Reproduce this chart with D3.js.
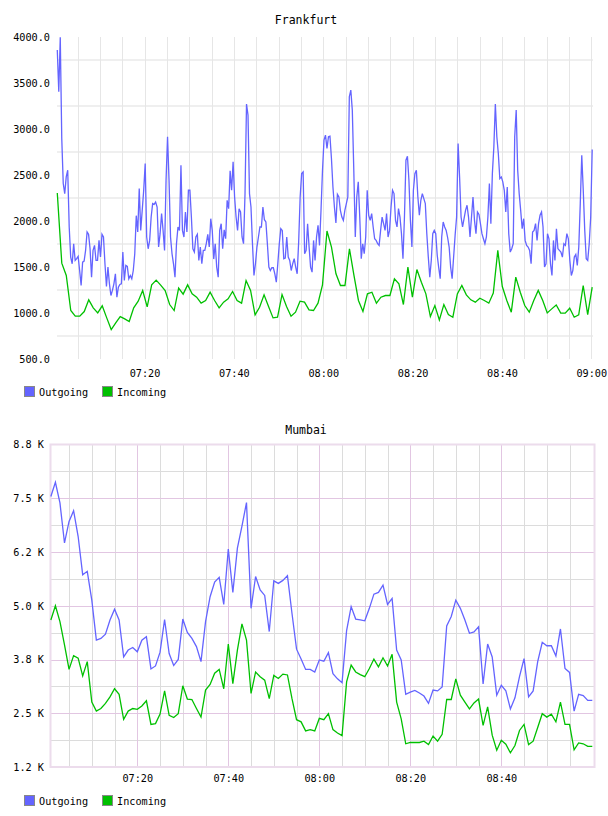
<!DOCTYPE html>
<html><head><meta charset="utf-8">
<script src="https://cdn.jsdelivr.net/npm/d3@7"></script>
<style>
html,body{margin:0;padding:0;background:#fff;}
svg text{font-family:"DejaVu Sans Mono",monospace;fill:#000;}
</style></head>
<body>
<svg id="c" width="608" height="816"></svg>
<script>
// ---------------- DATA ----------------
const seriesNames = ["Outgoing", "Incoming"];

// Frankfurt: outgoing sampled every ~20 s, incoming every ~1 min, 07:00:28 .. 09:00:12
const frankfurtSampleStart = "07:00:28";
const frankfurtSampleEnd = "09:00:12";
const frankfurtOutgoing = [
3859,3405,3997,2900,2407,2298,2479,2552,1935,1608,1535,1753,1571,1590,1615,1462,1299,1553,1564,1680,
1880,1855,1698,1390,1680,1735,1571,1571,1789,1608,1855,1826,1535,1288,1499,1317,1190,1245,1317,1426,
1172,1281,1310,1317,1662,1354,1517,1506,1372,1408,1372,1462,1644,2058,1880,2352,1898,2116,2334,2624,
1826,1698,1789,2043,2189,2181,2207,2152,1717,1862,2080,1898,1680,2443,2915,2443,1826,1644,1535,1390,
1753,1935,1898,2606,1898,1826,2098,1880,2334,2334,2043,1698,1662,1826,1855,1571,1717,1535,1680,1680,
1753,1855,1717,2025,1898,1586,1753,1499,1390,1898,1971,1698,1905,1807,2225,2134,2545,2334,2643,2261,
2043,1898,2134,2098,1826,1753,2300,3271,3151,2298,2152,1753,1408,1535,1717,1826,1935,1935,2152,2014,
1989,1753,1499,1462,1492,1492,1426,1335,1535,1753,1917,1898,1590,1597,1826,1608,1571,1462,1535,1590,
1499,1426,1771,2261,2515,2533,1644,1680,1971,1717,1499,1444,1789,1571,1826,1953,1735,2116,2552,2879,
2933,2788,2915,2922,2679,2370,2152,1978,2290,2261,2116,2043,2007,2116,2189,2261,3351,3423,3205,2552,
1826,2261,2425,2043,1590,1753,1644,1826,2334,2062,2007,2080,1935,1807,1789,1753,1735,1898,2043,1971,
1898,2080,1826,1898,2152,2334,2298,2007,1935,2134,2043,1862,1590,2043,2661,2704,2443,2007,1717,2334,
2515,2552,2261,2062,2225,2298,2243,2189,1862,1608,1390,1571,1862,1898,1862,1626,1492,1372,1826,1989,
1935,1898,1818,1717,1499,1372,1608,1844,2043,2842,2479,2043,1935,2025,2116,2171,2043,1826,2043,2261,
2007,1862,2098,2072,1971,1862,1807,1753,1826,2043,2407,1971,2515,2806,3271,2915,2734,2461,2479,2425,
2334,2098,2370,1862,1662,1698,1753,2915,3205,2552,2298,2116,1916,2025,1789,1735,1717,1680,1535,1880,
1898,1971,1789,1971,2062,2098,1935,1499,1535,1862,1807,1535,1408,1789,1571,1916,1698,1680,1662,1608,
1753,1735,1862,1807,1571,1408,1462,1608,1637,1517,1717,2189,2715,2334,1898,1590,1571,1753,2043,2777
];
const frankfurtIncoming = [
2305,1542,1408,1027,965,965,1016,1143,1056,1001,1078,947,820,892,961,936,907,1056,1128,1245,
1067,1306,1357,1303,1245,1092,1027,1270,1205,1306,1208,1172,1107,1136,1226,1136,1056,1118,1154,1234,
1136,1107,1353,1245,979,1063,1197,1070,947,954,1201,1070,965,1009,1128,1118,1034,1027,1107,1306,
1891,1717,1426,1299,1299,1698,1408,1136,1016,1208,1226,1107,1172,1190,1190,1372,1317,1092,1499,1172,
1473,1335,1208,961,1081,925,1092,983,954,1208,1299,1197,1143,1118,1161,1136,1107,1216,1680,1288,
1136,1009,1390,1226,1081,1009,1136,1245,1136,1001,1045,1088,998,998,1052,954,979,1299,983,1281
];
const frankfurtYTicks = [4000, 3500, 3000, 2500, 2000, 1500, 1000, 500];
const frankfurtYLabels = ["4000.0","3500.0","3000.0","2500.0","2000.0","1500.0","1000.0","500.0"];
const frankfurtXLabels = ["07:20","07:40","08:00","08:20","08:40","09:00"];

// Mumbai: one sample per minute, 07:01 .. 09:00
const mumbaiSampleStart = "07:01:00";
const mumbaiSampleEnd = "09:00:00";
const mumbaiOutgoing = [
7540,7870,7390,6460,6960,7210,6610,5720,5800,5130,4200,4240,4340,4670,4920,4670,3810,3970,4030,3930,
4200,4280,3530,3600,3920,4680,3890,3610,3750,4690,4380,4240,4050,3700,4630,5210,5550,5660,5030,6320,
5310,6340,6850,7400,4940,5680,5370,5240,4400,5580,5520,5590,5700,4820,3990,3760,3520,3520,3460,3740,
3710,3910,3420,3300,3210,4420,4980,4690,4670,4650,4940,5270,5310,5480,5030,5170,3970,3740,2940,2990,
3030,2970,2900,2730,3040,3020,3110,4530,4750,5130,4940,4670,4360,4390,4510,3180,4110,3810,2920,3150,
3020,2600,2860,3350,3770,2880,3020,3700,4150,4070,4070,3830,4460,3540,3450,2550,2940,2910,2800,2800
];
const mumbaiIncoming = [
4670,5000,4630,4090,3520,3840,3780,3370,3700,2760,2550,2610,2730,2880,3070,2940,2360,2550,2610,2590,
2670,2790,2240,2260,2480,3020,2450,2400,2490,3140,2830,2820,2610,2410,3040,3170,3430,3520,3070,4110,
3190,3970,4580,4200,2960,3460,3350,3270,2840,3380,3310,3410,3390,2840,2350,2300,2090,2120,2090,2380,
2350,2490,2120,2040,1980,3230,3620,3460,3400,3350,3540,3760,3580,3790,3600,3870,2760,2370,1790,1820,
1820,1820,1850,1770,1970,1850,2010,2820,2820,3300,2920,2760,2600,2740,2830,2220,2650,1990,1640,1870,
1780,1580,1750,2100,2240,1770,1850,2170,2490,2410,2480,2300,2760,2240,2240,1650,1810,1790,1730,1730
];
const mumbaiYTicks = [8750, 7500, 6250, 5000, 3750, 2500, 1250];
const mumbaiYLabels = ["8.8 K","7.5 K","6.2 K","5.0 K","3.8 K","2.5 K","1.2 K"];
const mumbaiXLabels = ["07:20","07:40","08:00","08:20","08:40"];

const colors = {Outgoing: "#6464ff", Incoming: "#00c000"};

// ---------------- HELPERS ----------------
const toMin = s => { const p = s.split(":").map(Number); return (p[0]-7)*60 + p[1] + (p[2]||0)/60; };
function sampleTimes(values, start, end) {
  const idx = d3.scaleLinear().domain([0, values.length - 1]).range([toMin(start), toMin(end)]);
  return values.map((v, i) => ({t: idx(i), v}));
}
const svg = d3.select("#c");
svg.append("rect").attr("width", 608).attr("height", 816).attr("fill", "#fff");

function legend(g, y) {
  const items = [{n: seriesNames[0], x: 24}, {n: seriesNames[1], x: 102}];
  items.forEach(it => {
    g.append("rect").attr("x", it.x + 0.5).attr("y", y + 0.5).attr("width", 10).attr("height", 10)
      .attr("fill", colors[it.n]).attr("stroke", "#888").attr("stroke-width", 1);
    g.append("text").attr("x", it.x + 15).attr("y", y + 9.5).attr("font-size", 10.2).text(it.n);
  });
}

// ---------------- FRANKFURT ----------------
(function () {
  const g = svg.append("g");
  const x = d3.scaleLinear().domain([0, 120]).range([55.2, 591.3]);
  const y = d3.scaleLinear().domain([500, 4000]).range([359, 37]);
  g.append("text").attr("x", 306).attr("y", 24).attr("text-anchor", "middle").attr("font-size", 11.5).text("Frankfurt");

  // grid
  const hGrid = d3.range(750, 4000, 500);
  g.append("g").selectAll("line").data(hGrid).join("line")
    .attr("x1", 57).attr("x2", 593).attr("y1", d => y(d)).attr("y2", d => y(d))
    .attr("stroke", "#efefef").attr("stroke-width", 2);
  const vGrid = d3.range(5, 121, 5);
  g.append("g").selectAll("line").data(vGrid).join("line")
    .attr("x1", d => Math.round(x(d)) + 0.5).attr("x2", d => Math.round(x(d)) + 0.5)
    .attr("y1", 37).attr("y2", 359).attr("stroke", "#e6e6e6").attr("stroke-width", 1);

  // axes
  const ya = d3.axisLeft(y).tickValues(frankfurtYTicks).tickSize(0).tickPadding(0)
    .tickFormat((d, i) => frankfurtYLabels[i]);
  g.append("g").attr("transform", "translate(50,0)").call(ya)
    .call(s => s.select(".domain").remove())
    .selectAll("text").attr("font-family", "DejaVu Sans Mono").attr("font-size", 10.2).attr("fill", "#000");
  const xa = d3.axisBottom(x).tickValues(frankfurtXLabels.map(toMin)).tickSize(0).tickPadding(0)
    .tickFormat((d, i) => frankfurtXLabels[i]);
  g.append("g").attr("transform", "translate(0,370)").call(xa)
    .call(s => s.select(".domain").remove())
    .selectAll("text").attr("font-family", "DejaVu Sans Mono").attr("font-size", 10.2).attr("fill", "#000");

  g.append("clipPath").attr("id", "clipF").append("rect").attr("x", 55).attr("y", 30).attr("width", 538).attr("height", 330);
  const line = d3.line().x(d => x(d.t)).y(d => y(d.v));
  const lg = g.append("g").attr("clip-path", "url(#clipF)");
  lg.append("path").datum(sampleTimes(frankfurtOutgoing, frankfurtSampleStart, frankfurtSampleEnd))
    .attr("d", line).attr("fill", "none").attr("stroke", colors.Outgoing).attr("stroke-width", 1.3);
  lg.append("path").datum(sampleTimes(frankfurtIncoming, frankfurtSampleStart, frankfurtSampleEnd))
    .attr("d", line).attr("fill", "none").attr("stroke", colors.Incoming).attr("stroke-width", 1.3);
  legend(g, 386);
})();

// ---------------- MUMBAI ----------------
(function () {
  const g = svg.append("g");
  const x = d3.scaleLinear().domain([0, 120]).range([46.3, 592.3]);
  const y = d3.scaleLinear().domain([1250, 8750]).range([767, 444.5]);
  const left = 50.5, right = 594.5, top = 444.5, bottom = 767;
  g.append("text").attr("x", 306).attr("y", 434).attr("text-anchor", "middle").attr("font-size", 11.5).text("Mumbai");

  const minorH = d3.range(1875, 8750, 1250);
  g.append("g").selectAll("line").data(minorH).join("line")
    .attr("x1", left).attr("x2", right).attr("y1", d => Math.round(y(d)) + 0.5).attr("y2", d => Math.round(y(d)) + 0.5)
    .attr("stroke", "#dcdcdc").attr("stroke-width", 1);
  const vAll = d3.range(5, 120, 5);
  g.append("g").selectAll("line").data(vAll.filter(d => d % 20 !== 0)).join("line")
    .attr("x1", d => Math.round(x(d)) + 0.5).attr("x2", d => Math.round(x(d)) + 0.5)
    .attr("y1", top).attr("y2", bottom).attr("stroke", "#dcdcdc").attr("stroke-width", 1);
  g.append("g").selectAll("line").data(mumbaiYTicks.slice(1, -1)).join("line")
    .attr("x1", left).attr("x2", right).attr("y1", d => Math.round(y(d)) + 0.5).attr("y2", d => Math.round(y(d)) + 0.5)
    .attr("stroke", "#e2c6e2").attr("stroke-width", 1);
  g.append("g").selectAll("line").data(vAll.filter(d => d % 20 === 0)).join("line")
    .attr("x1", d => Math.round(x(d)) + 0.5).attr("x2", d => Math.round(x(d)) + 0.5)
    .attr("y1", top).attr("y2", bottom).attr("stroke", "#e2c6e2").attr("stroke-width", 1);
  g.append("rect").attr("x", left).attr("y", top).attr("width", right - left).attr("height", bottom - top)
    .attr("fill", "none").attr("stroke", "#ecdcec").attr("stroke-width", 2);

  const ya = d3.axisLeft(y).tickValues(mumbaiYTicks).tickSize(0).tickPadding(0)
    .tickFormat((d, i) => mumbaiYLabels[i]);
  g.append("g").attr("transform", "translate(44,0)").call(ya)
    .call(s => s.select(".domain").remove())
    .selectAll("text").attr("font-family", "DejaVu Sans Mono").attr("font-size", 10.2).attr("fill", "#000");
  const xa = d3.axisBottom(x).tickValues(mumbaiXLabels.map(toMin)).tickSize(0).tickPadding(0)
    .tickFormat((d, i) => mumbaiXLabels[i]);
  g.append("g").attr("transform", "translate(0,775)").call(xa)
    .call(s => s.select(".domain").remove())
    .selectAll("text").attr("font-family", "DejaVu Sans Mono").attr("font-size", 10.2).attr("fill", "#000");

  const line = d3.line().x(d => x(d.t)).y(d => y(d.v));
  g.append("path").datum(sampleTimes(mumbaiOutgoing, mumbaiSampleStart, mumbaiSampleEnd))
    .attr("d", line).attr("fill", "none").attr("stroke", colors.Outgoing).attr("stroke-width", 1.3);
  g.append("path").datum(sampleTimes(mumbaiIncoming, mumbaiSampleStart, mumbaiSampleEnd))
    .attr("d", line).attr("fill", "none").attr("stroke", colors.Incoming).attr("stroke-width", 1.3);
  legend(g, 795);
})();
</script>
</body></html>
